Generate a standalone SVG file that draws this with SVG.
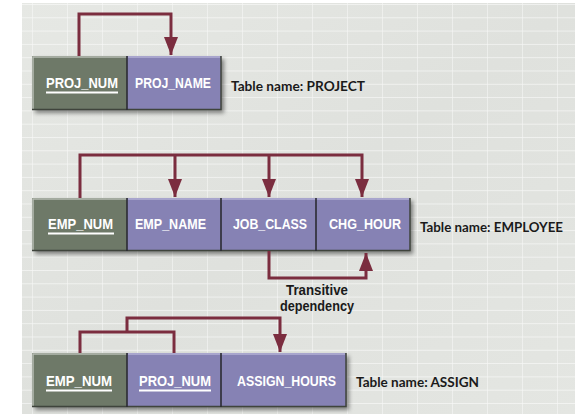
<svg xmlns="http://www.w3.org/2000/svg" width="575" height="417" viewBox="0 0 575 417">
<defs>
<pattern id="grid" x="32" y="4" width="35" height="13.3" patternUnits="userSpaceOnUse">
<path d="M0 0 V13.3 M0 0 H35" stroke="#ffffff" stroke-width="1.2" stroke-opacity="0.7" fill="none"/>
</pattern>
<linearGradient id="bgshade" x1="0" y1="0" x2="1" y2="1">
<stop offset="0" stop-color="#e6e8e4"/>
<stop offset="0.5" stop-color="#dfe1dd"/>
<stop offset="1" stop-color="#e4e6e2"/>
</linearGradient>
<filter id="shadow" x="-10%" y="-20%" width="130%" height="160%">
<feDropShadow dx="3" dy="3" stdDeviation="2" flood-color="#000" flood-opacity="0.45"/>
</filter>
<marker id="ah" viewBox="0 0 18 14" refX="18" refY="7" markerWidth="18" markerHeight="14" markerUnits="userSpaceOnUse" orient="auto">
<path d="M0 0 L18 7 L0 14 Z" fill="#7b2d3f"/>
</marker>
<style>
.key{fill:#6e7968}
.att{fill:#8682b4}
.hi{stroke:#b7bcb3;stroke-width:1.5;fill:none}
.hip{stroke:#b3b0d6;stroke-width:1.5;fill:none}
.lo{stroke:#3f443c;stroke-width:1.5;fill:none}
.div{stroke:#2b2b33;stroke-width:1.6}
.ft{font-family:"Liberation Sans",Arial,sans-serif;font-weight:bold;font-size:15.5px;fill:#ffffff}
.ul{stroke:#ffffff;stroke-width:1.8}
.tn{font-family:"Lato","Liberation Sans",sans-serif;font-weight:bold;font-size:13.5px;fill:#1a1a1a}
.tx{font-family:"Liberation Sans",Arial,sans-serif;font-weight:bold;font-size:14px;fill:#1a1a1a}
.cn{stroke:#7b2d3f;stroke-width:3;fill:none;stroke-linejoin:miter}
</style>
</defs>
<rect x="0" y="0" width="575" height="417" fill="#ffffff"/>
<rect x="22" y="3" width="553" height="411" fill="url(#bgshade)"/>
<rect x="22" y="3" width="553" height="411" fill="url(#grid)"/>

<g id="project">
<g filter="url(#shadow)">
<rect class="key" x="32" y="56" width="95" height="54"/>
<rect class="att" x="127" y="56" width="94" height="54"/>
</g>
<path class="hi" d="M33 109 V57 H127"/>
<path class="hip" d="M128 57 H220"/>
<path class="lo" d="M32 109.5 H221 V56"/>
<line class="div" x1="127" y1="56" x2="127" y2="110"/>
<text class="ft" x="46" y="88" textLength="72" lengthAdjust="spacingAndGlyphs">PROJ_NUM</text>
<line class="ul" x1="46" y1="92.5" x2="118" y2="92.5"/>
<text class="ft" x="135" y="88" textLength="76" lengthAdjust="spacingAndGlyphs">PROJ_NAME</text>
<text class="tn" x="231" y="91" textLength="134" lengthAdjust="spacingAndGlyphs">Table name: PROJECT</text>
</g>

<g id="employee">
<g filter="url(#shadow)">
<rect class="key" x="32" y="198" width="95" height="53"/>
<rect class="att" x="127" y="198" width="283" height="53"/>
</g>
<path class="hi" d="M33 250 V199 H127"/>
<path class="hip" d="M128 199 H409"/>
<path class="lo" d="M32 250.5 H410 V198"/>
<line class="div" x1="127" y1="198" x2="127" y2="251"/>
<line class="div" x1="221" y1="198" x2="221" y2="251"/>
<line class="div" x1="316" y1="198" x2="316" y2="251"/>
<text class="ft" x="48" y="229" textLength="65" lengthAdjust="spacingAndGlyphs">EMP_NUM</text>
<line class="ul" x1="48" y1="233.5" x2="114" y2="233.5"/>
<text class="ft" x="135" y="229" textLength="71" lengthAdjust="spacingAndGlyphs">EMP_NAME</text>
<text class="ft" x="233" y="229" textLength="74" lengthAdjust="spacingAndGlyphs">JOB_CLASS</text>
<text class="ft" x="329" y="229" textLength="72" lengthAdjust="spacingAndGlyphs">CHG_HOUR</text>
<text class="tn" x="420" y="232" textLength="143" lengthAdjust="spacingAndGlyphs">Table name: EMPLOYEE</text>
<text class="tx" x="317" y="295" text-anchor="middle" textLength="62" lengthAdjust="spacingAndGlyphs">Transitive</text>
<text class="tx" x="317" y="311" text-anchor="middle" textLength="74" lengthAdjust="spacingAndGlyphs">dependency</text>
</g>

<g id="assign">
<g filter="url(#shadow)">
<rect class="key" x="32" y="353" width="95" height="54"/>
<rect class="att" x="127" y="353" width="219" height="54"/>
</g>
<path class="hi" d="M33 406 V354 H127"/>
<path class="hip" d="M128 354 H345"/>
<path class="lo" d="M32 406.5 H346 V353"/>
<line class="div" x1="127" y1="353" x2="127" y2="407"/>
<line class="div" x1="221" y1="353" x2="221" y2="407"/>
<text class="ft" x="46" y="386" textLength="66" lengthAdjust="spacingAndGlyphs">EMP_NUM</text>
<line class="ul" x1="46" y1="390.5" x2="112" y2="390.5"/>
<text class="ft" x="139" y="386" textLength="72" lengthAdjust="spacingAndGlyphs">PROJ_NUM</text>
<line class="ul" x1="139" y1="390.5" x2="211" y2="390.5"/>
<text class="ft" x="237" y="386" textLength="99" lengthAdjust="spacingAndGlyphs">ASSIGN_HOURS</text>
<text class="tn" x="356" y="387" textLength="123" lengthAdjust="spacingAndGlyphs">Table name: ASSIGN</text>
</g>

<g id="connectors">
<path class="cn" d="M79 56 V14 H171 V55" marker-end="url(#ah)"/>
<path class="cn" d="M80 198 V155 H362 V197" marker-end="url(#ah)"/>
<path class="cn" d="M175 155 V197" marker-end="url(#ah)"/>
<path class="cn" d="M269 155 V197" marker-end="url(#ah)"/>
<path class="cn" d="M269 251 V278 H366 V253" marker-end="url(#ah)"/>
<path class="cn" d="M80 353 V332 H174 V353"/>
<path class="cn" d="M127 332 V318 H280 V352" marker-end="url(#ah)"/>
</g>
</svg>
